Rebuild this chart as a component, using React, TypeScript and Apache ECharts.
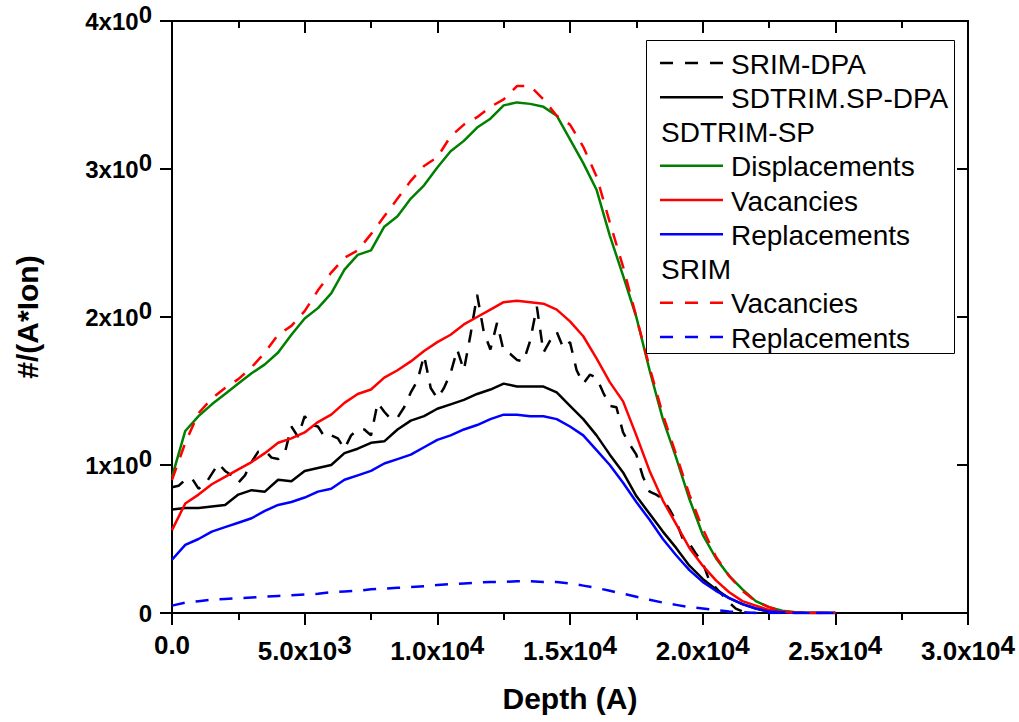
import { useEffect, useRef } from "react";
import * as echarts from "echarts";

const FONT = "'Liberation Sans', Arial, Helvetica, sans-serif";

// Depth grid (Å) for the SDTRIM-SP / SRIM profiles
const depth = [
  0, 500, 1000, 1500, 2000, 2500, 3000, 3500, 4000, 4500,
  5000, 5500, 6000, 6500, 7000, 7500, 8000, 8500, 9000, 9500,
  10000, 10500, 11000, 11500, 12000, 12500, 13000, 13500, 14000, 14500,
  15000, 15500, 16000, 16500, 17000, 17500, 18000, 18500, 19000, 19500,
  20000, 20500, 21000, 21500, 22000, 22500, 23000, 23500, 24000, 24500, 25000,
];

// Finer depth grid for the SRIM-DPA profile
const depthFine = [
  0, 250, 500, 750, 1000, 1250, 1500, 1750, 2000, 2250,
  2500, 2750, 3000, 3250, 3500, 3750, 4000, 4250, 4500, 4750,
  5000, 5250, 5500, 5750, 6000, 6250, 6500, 6750, 7000, 7250,
  7500, 7750, 8000, 8250, 8500, 8750, 9000, 9250, 9500, 9750,
  10000, 10250, 10500, 10750, 11000, 11250, 11500, 11750, 12000, 12250,
  12500, 12750, 13000, 13250, 13500, 13750, 14000, 14250, 14500, 14750,
  15000, 15250, 15500, 15750, 16000, 16250, 16500, 16750, 17000, 17250,
  17500, 17750, 18000, 18250, 18500, 18750, 19000, 19250, 19500, 19750,
  20000, 20250, 20500, 20750, 21000, 21250, 21500, 21750, 22000,
];

const srimDpa = [
  0.85, 0.86, 0.90, 0.91, 0.84, 0.87, 0.94, 1.01, 0.96, 0.93,
  0.88, 0.93, 1.02, 1.09, 1.10, 1.05, 1.04, 1.08, 1.26, 1.19,
  1.33, 1.27, 1.26, 1.19, 1.20, 1.18, 1.11, 1.20, 1.24, 1.24,
  1.20, 1.42, 1.36, 1.31, 1.32, 1.39, 1.49, 1.57, 1.74, 1.52,
  1.45, 1.52, 1.62, 1.78, 1.64, 1.88, 2.15, 1.90, 1.78, 1.96,
  1.77, 1.75, 1.71, 1.70, 1.84, 2.07, 1.76, 1.84, 1.90, 1.79,
  1.83, 1.64, 1.55, 1.61, 1.59, 1.49, 1.40, 1.39, 1.22, 1.14,
  1.07, 0.92, 0.82, 0.80, 0.77, 0.70, 0.62, 0.50, 0.47, 0.40,
  0.34, 0.22, 0.17, 0.12, 0.07, 0.03, 0.01, 0.0, 0.0,
];

const sdtrimDpa = [
  0.70, 0.71, 0.71, 0.72, 0.73, 0.80, 0.83, 0.82, 0.90, 0.89,
  0.96, 0.98, 1.00, 1.08, 1.11, 1.15, 1.16, 1.24, 1.30, 1.33,
  1.38, 1.41, 1.44, 1.48, 1.51, 1.55, 1.53, 1.53, 1.53, 1.49,
  1.40, 1.31, 1.20, 1.07, 0.95, 0.79, 0.67, 0.55, 0.44, 0.32,
  0.23, 0.16, 0.10, 0.06, 0.03, 0.01, 0.005, 0, 0, 0, 0,
];

const sdDisplacements = [
  0.92, 1.23, 1.33, 1.41, 1.48, 1.55, 1.62, 1.68, 1.76, 1.88,
  1.99, 2.06, 2.16, 2.32, 2.42, 2.45, 2.61, 2.68, 2.80, 2.89,
  3.01, 3.12, 3.19, 3.28, 3.34, 3.43, 3.45, 3.44, 3.42, 3.36,
  3.20, 3.04, 2.86, 2.55, 2.28, 2.00, 1.64, 1.31, 1.05, 0.77,
  0.53, 0.37, 0.25, 0.16, 0.08, 0.04, 0.015, 0.005, 0, 0, 0,
];

const sdVacancies = [
  0.56, 0.74, 0.80, 0.87, 0.92, 0.97, 1.02, 1.08, 1.15, 1.18,
  1.22, 1.29, 1.34, 1.42, 1.48, 1.51, 1.59, 1.64, 1.70, 1.77,
  1.83, 1.88, 1.95, 2.00, 2.05, 2.10, 2.11, 2.10, 2.09, 2.05,
  1.97, 1.87, 1.72, 1.56, 1.43, 1.20, 0.96, 0.76, 0.60, 0.44,
  0.32, 0.22, 0.14, 0.08, 0.05, 0.02, 0.01, 0.003, 0, 0, 0,
];

const sdReplacements = [
  0.36, 0.46, 0.50, 0.55, 0.58, 0.61, 0.64, 0.69, 0.73, 0.75,
  0.78, 0.82, 0.84, 0.90, 0.93, 0.96, 1.01, 1.04, 1.07, 1.12,
  1.17, 1.20, 1.24, 1.27, 1.31, 1.34, 1.34, 1.33, 1.33, 1.31,
  1.26, 1.20, 1.10, 1.00, 0.88, 0.75, 0.63, 0.50, 0.39, 0.29,
  0.21, 0.15, 0.10, 0.06, 0.03, 0.01, 0.005, 0, 0, 0, 0,
];

const srimVacancies = [
  0.90, 1.15, 1.35, 1.45, 1.52, 1.58, 1.66, 1.76, 1.88, 1.94,
  2.04, 2.18, 2.30, 2.40, 2.45, 2.56, 2.68, 2.80, 2.92, 3.02,
  3.08, 3.22, 3.30, 3.35, 3.42, 3.47, 3.56, 3.56, 3.47, 3.36,
  3.30, 3.15, 2.95, 2.64, 2.34, 2.00, 1.66, 1.34, 1.07, 0.80,
  0.57, 0.38, 0.25, 0.15, 0.08, 0.04, 0.01, 0, 0, 0, 0,
];

const srimReplacements = [
  0.05, 0.07, 0.08, 0.09, 0.095, 0.10, 0.105, 0.11, 0.115, 0.12,
  0.125, 0.13, 0.14, 0.145, 0.15, 0.16, 0.165, 0.17, 0.175, 0.18,
  0.19, 0.195, 0.20, 0.205, 0.21, 0.21, 0.215, 0.215, 0.21, 0.21,
  0.20, 0.185, 0.17, 0.15, 0.13, 0.11, 0.09, 0.07, 0.055, 0.04,
  0.03, 0.02, 0.01, 0.005, 0, 0, 0, 0, 0, 0, 0,
];

const xTickMantissa = ["0.0", "5.0", "1.0", "1.5", "2.0", "2.5", "3.0"];
const xTickExponent = ["", "3", "4", "4", "4", "4", "4"];
const yTickMantissa = ["0", "1", "2", "3", "4"];
const yTickExponent = ["", "0", "0", "0", "0"];

const legendLabels = [
  "SRIM-DPA", "SDTRIM.SP-DPA", "SDTRIM-SP", "Displacements", "Vacancies",
  "Replacements", "SRIM", "Vacancies", "Replacements",
];
const legendColors = [
  "#000000", "#000000", "", "#008000", "#ff0000", "#0000ff", "", "#ff0000", "#0000ff",
];
const legendDashed = [true, false, false, false, false, false, false, true, true];

const DASH = [13, 11];

function pairs(xs: number[], ys: number[]) {
  return ys.map((y, i) => [xs[i], y]);
}

export default function App() {
  const ref = useRef<HTMLDivElement>(null);

  useEffect(() => {
    if (!ref.current) return;
    const chart = echarts.init(ref.current, undefined, { renderer: "svg" });

    const richY = {
      m: { fontSize: 24, fontWeight: "bold", fontFamily: FONT, color: "#000" },
      s: { fontSize: 24, fontWeight: "bold", fontFamily: FONT, color: "#000", padding: [0, 0, 14, 0] },
    };
    const richX = {
      m: { fontSize: 26, fontWeight: "bold", fontFamily: FONT, color: "#000" },
      s: { fontSize: 26, fontWeight: "bold", fontFamily: FONT, color: "#000", padding: [0, 0, 12, 0] },
    };

    const lineSeries = (name: string, data: number[][], color: string, dashed: boolean) => ({
      name,
      type: "line",
      data,
      showSymbol: false,
      symbol: "none",
      xAxisIndex: 0,
      yAxisIndex: 0,
      lineStyle: { color, width: 2.5, type: dashed ? DASH : "solid" },
      emphasis: { disabled: true },
    });

    const legendGraphics: any[] = [
      {
        type: "rect",
        shape: { x: 646.5, y: 40.5, width: 308, height: 313 },
        style: { fill: "#ffffff", stroke: "#000000", lineWidth: 1 },
        z: 100,
      },
    ];
    legendLabels.forEach((label, i) => {
      const y = 63 + i * 34.25;
      const color = legendColors[i];
      if (color) {
        legendGraphics.push({
          type: "line",
          shape: { x1: 660, y1: y, x2: 723, y2: y },
          style: { stroke: color, lineWidth: 2.5, lineDash: legendDashed[i] ? [13, 12] : null },
          z: 101,
        });
      }
      legendGraphics.push({
        type: "text",
        x: color ? 731 : 661,
        y: y + 1,
        style: {
          text: label,
          fill: "#000",
          fontSize: 28,
          fontFamily: FONT,
          align: "left",
          verticalAlign: "middle",
        },
        z: 101,
      });
    });

    chart.setOption({
      animation: false,
      backgroundColor: "#ffffff",
      grid: { left: 172, right: 51, top: 21, bottom: 109, containLabel: false },
      xAxis: [
        {
          type: "value",
          position: "bottom",
          min: 0,
          max: 30000,
          interval: 5000,
          name: "Depth (A)",
          nameLocation: "middle",
          nameGap: 70,
          nameTextStyle: { fontSize: 30, fontWeight: "bold", fontFamily: FONT, color: "#000" },
          axisLine: { show: true, onZero: false, lineStyle: { color: "#000", width: 2 } },
          axisTick: { show: true, inside: false, length: 12, lineStyle: { color: "#000", width: 2 } },
          minorTick: { show: true, splitNumber: 2, length: 7, lineStyle: { color: "#000", width: 2 } },
          splitLine: { show: false },
          axisLabel: {
            margin: 19,
            formatter: (v: number) => {
              const i = Math.round(v / 5000);
              const e = xTickExponent[i];
              return e ? `{m|${xTickMantissa[i]}x10}{s|${e}}` : `{m|${xTickMantissa[i]}}`;
            },
            rich: richX,
          },
        },
        {
          type: "value",
          position: "top",
          min: 0,
          max: 30000,
          interval: 5000,
          axisLine: { show: true, onZero: false, lineStyle: { color: "#000", width: 2 } },
          axisTick: { show: true, inside: true, length: 12, lineStyle: { color: "#000", width: 2 } },
          minorTick: { show: true, splitNumber: 2, length: 7, lineStyle: { color: "#000", width: 2 } },
          splitLine: { show: false },
          axisLabel: { show: false },
        },
      ],
      yAxis: [
        {
          type: "value",
          position: "left",
          min: 0,
          max: 4,
          interval: 1,
          name: "#/(A*Ion)",
          nameLocation: "middle",
          nameGap: 130,
          nameTextStyle: { fontSize: 30, fontWeight: "bold", fontFamily: FONT, color: "#000" },
          axisLine: { show: true, onZero: false, lineStyle: { color: "#000", width: 2 } },
          axisTick: { show: true, inside: false, length: 12, lineStyle: { color: "#000", width: 2 } },
          splitLine: { show: false },
          axisLabel: {
            margin: 20,
            formatter: (v: number) => {
              const i = Math.round(v);
              const e = yTickExponent[i];
              return e ? `{m|${yTickMantissa[i]}x10}{s|${e}}` : `{m|${yTickMantissa[i]}}`;
            },
            rich: richY,
          },
        },
        {
          type: "value",
          position: "right",
          min: 0,
          max: 4,
          interval: 1,
          axisLine: { show: true, onZero: false, lineStyle: { color: "#000", width: 2 } },
          axisTick: { show: true, inside: true, length: 11, lineStyle: { color: "#000", width: 2 } },
          splitLine: { show: false },
          axisLabel: { show: false },
        },
      ],
      series: [
        lineSeries("SRIM-DPA", pairs(depthFine, srimDpa), "#000000", true),
        lineSeries("SDTRIM.SP-DPA", pairs(depth, sdtrimDpa), "#000000", false),
        lineSeries("SDTRIM-SP Displacements", pairs(depth, sdDisplacements), "#008000", false),
        lineSeries("SDTRIM-SP Vacancies", pairs(depth, sdVacancies), "#ff0000", false),
        lineSeries("SDTRIM-SP Replacements", pairs(depth, sdReplacements), "#0000ff", false),
        lineSeries("SRIM Vacancies", pairs(depth, srimVacancies), "#ff0000", true),
        lineSeries("SRIM Replacements", pairs(depth, srimReplacements), "#0000ff", true),
      ],
      graphic: legendGraphics,
    });

    return () => {
      chart.dispose();
    };
  }, []);

  return (
    <div
      ref={ref}
      style={{ position: "fixed", left: 0, top: 0, width: 1019, height: 722, background: "#fff" }}
    />
  );
}
